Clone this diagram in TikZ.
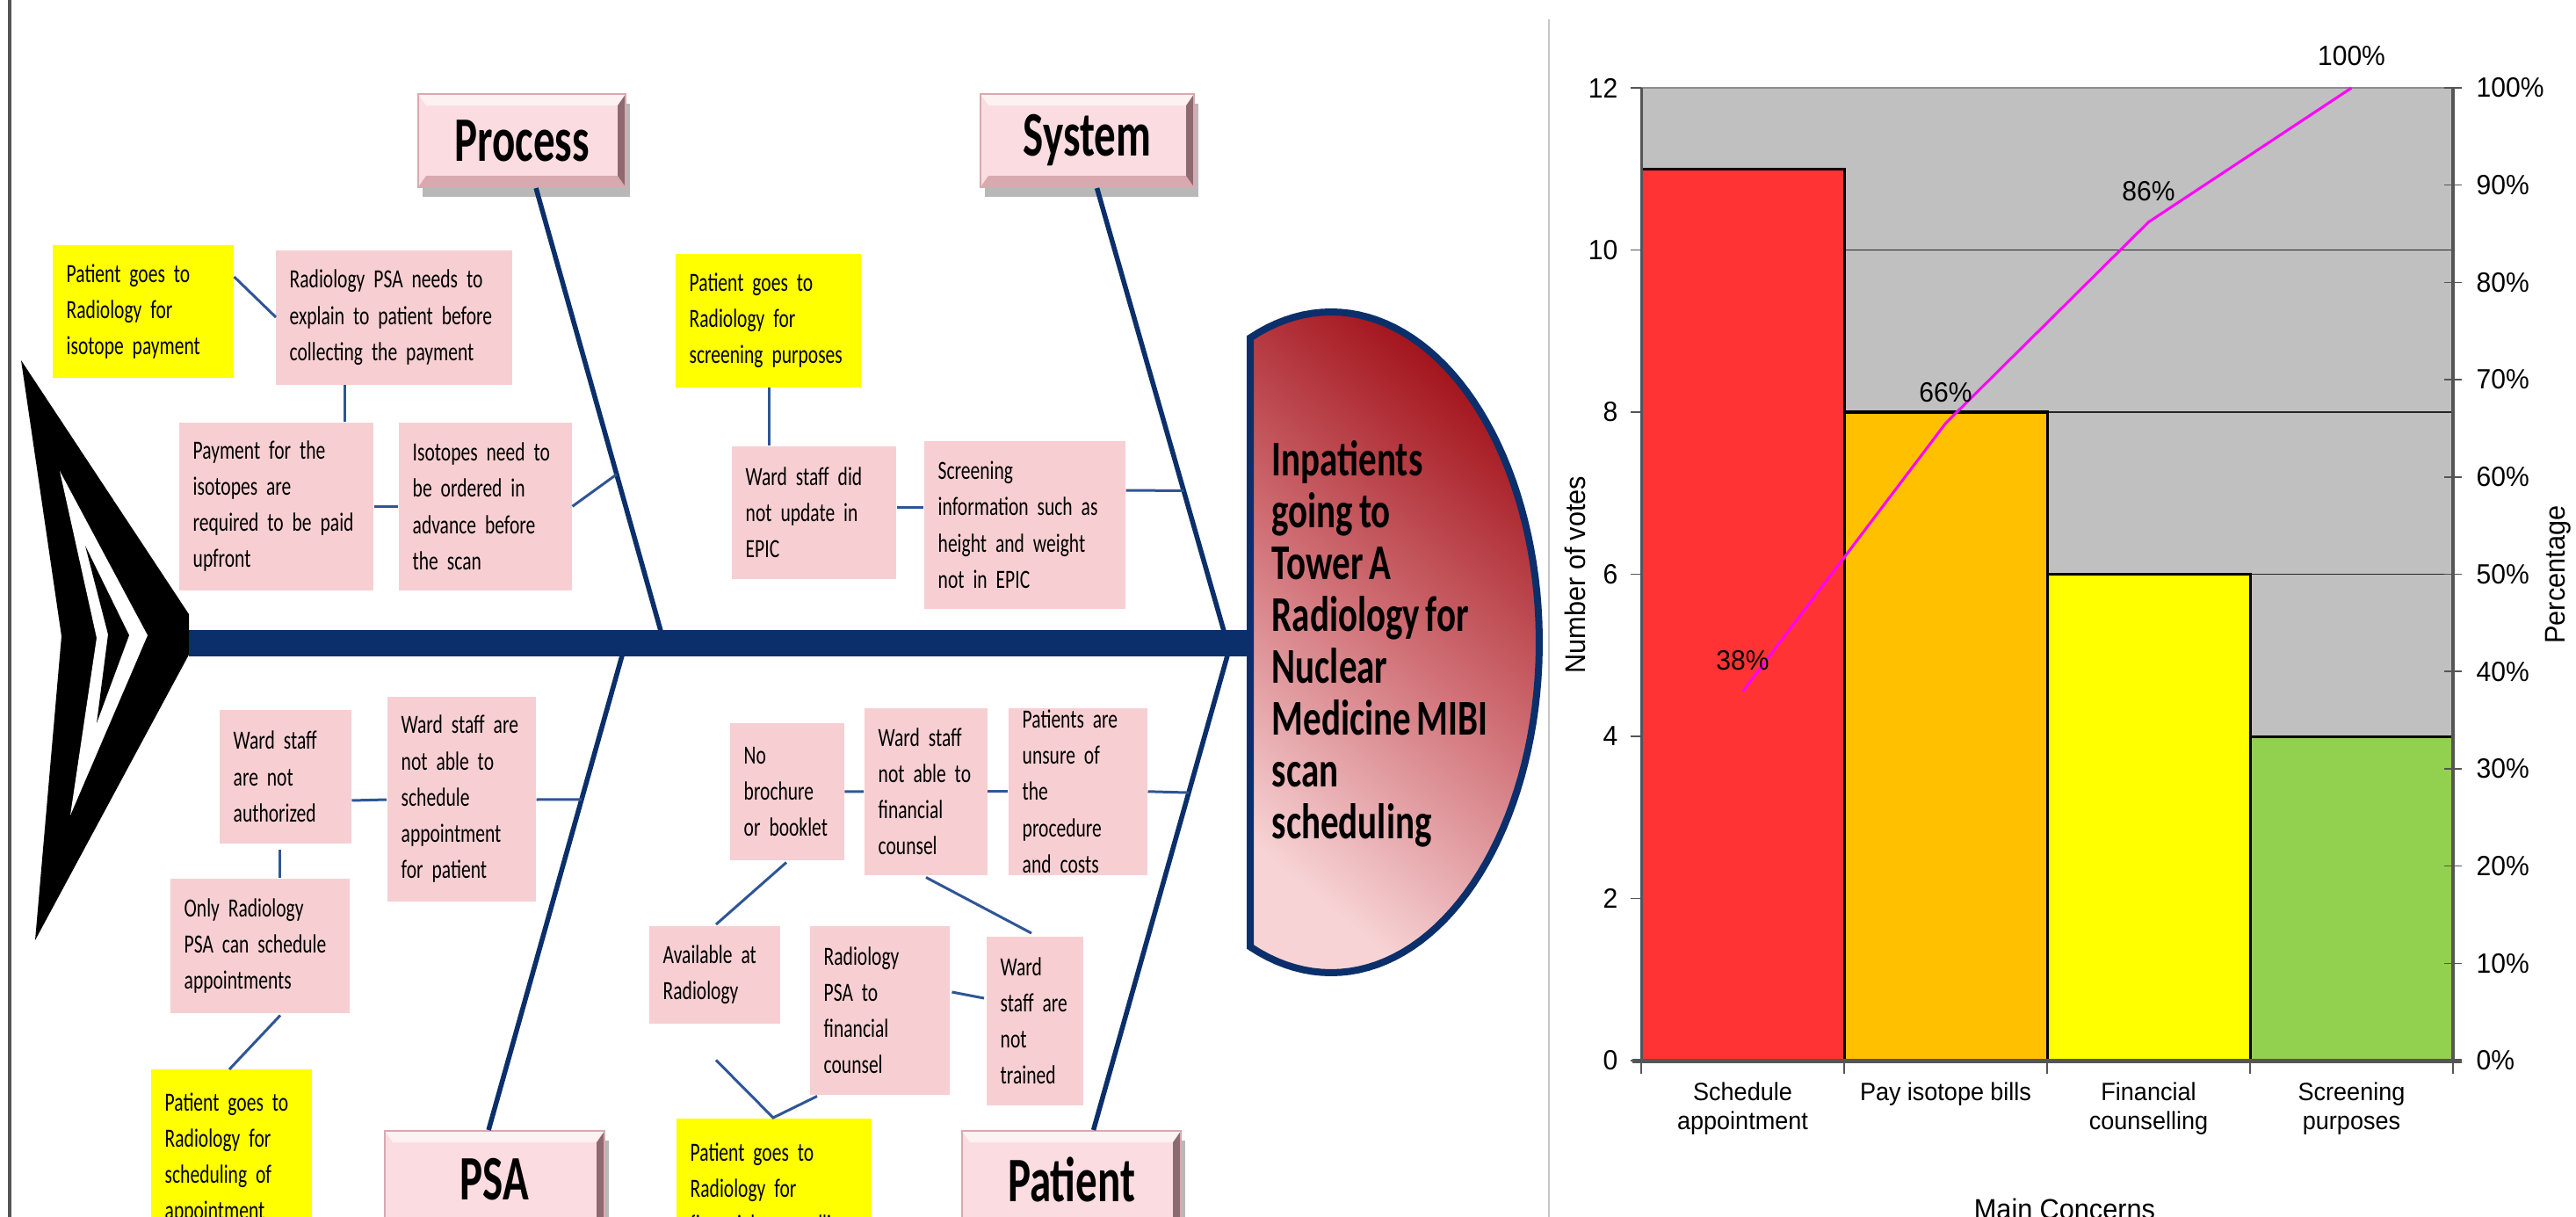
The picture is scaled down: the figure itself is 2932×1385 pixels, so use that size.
\documentclass[tikz,border=0pt]{standalone}
\usepackage{fontspec}
\usetikzlibrary{calc,shadows}
\newfontfamily\fbfont[FakeStretch=0.72,WordSpace=0.72]{Carlito}
\newfontfamily\hdfont[FakeStretch=0.68,WordSpace=0.68]{Carlito}
\newfontfamily\chfont[FakeStretch=0.95,WordSpace=0.95]{Liberation Sans}
\definecolor{pinkbox}{HTML}{F7CFD2}
\definecolor{ybox}{HTML}{FFFF00}
\definecolor{navy}{HTML}{0B2F6A}
\definecolor{conn}{HTML}{2F5597}
\definecolor{catfill}{HTML}{FBDCE0}
\definecolor{catlow}{HTML}{D9A9B0}
\definecolor{catright}{HTML}{8E6A70}
\definecolor{hdark}{HTML}{A3141C}
\definecolor{hmid}{HTML}{D07177}
\definecolor{hlight}{HTML}{F7D3D5}
\definecolor{plotgray}{HTML}{C0C0C0}
\definecolor{barred}{HTML}{FF3333}
\definecolor{barorange}{HTML}{FFC000}
\definecolor{baryellow}{HTML}{FFFF00}
\definecolor{bargreen}{HTML}{92D050}
\definecolor{axisgray}{HTML}{555555}
\definecolor{cumline}{RGB}{255,0,255}
\begin{document}
\begin{tikzpicture}[x=0.01cm,y=-0.01cm,
  txtbox/.style={anchor=north west, inner xsep=1.6mm, inner ysep=0pt, align=left,
    font={\fbfont\fontsize{8.5}{11.7}\selectfont}, text=black},
  pk/.style={txtbox, fill=pinkbox},
  yl/.style={txtbox, fill=ybox},
  con/.style={draw=conn, line width=0.3mm},
  bone/.style={draw=navy, line width=0.55mm},
  catbox/.style={anchor=north west, inner sep=0pt, fill=catfill, draw=catlow, line width=0.2mm,
    font={\hdfont\bfseries\fontsize{20.5}{22}\selectfont},
    drop shadow={shadow xshift=0.5mm, shadow yshift=-1.1mm, fill=black, opacity=0.28},
    path picture={
      \fill[white,opacity=0.6] (path picture bounding box.north west) -- (path picture bounding box.north east)
        -- ([xshift=-0.9mm,yshift=-1.3mm]path picture bounding box.north east)
        -- ([xshift=0.9mm,yshift=-1.3mm]path picture bounding box.north west) -- cycle;
      \fill[catlow] (path picture bounding box.south west) -- (path picture bounding box.south east)
        -- ([xshift=-0.9mm,yshift=1.3mm]path picture bounding box.south east)
        -- ([xshift=0.9mm,yshift=1.3mm]path picture bounding box.south west) -- cycle;
      \fill[catright] (path picture bounding box.north east) -- (path picture bounding box.south east)
        -- ([xshift=-0.9mm,yshift=1.3mm]path picture bounding box.south east)
        -- ([xshift=-0.9mm,yshift=-1.3mm]path picture bounding box.north east) -- cycle;
    }},
  ticklab/.style={inner sep=0pt, font={\chfont\fontsize{9}{10}\selectfont}},
  catlab/.style={inner sep=0pt, anchor=north, align=center, font={\chfont\fontsize{8.1}{9.4}\selectfont}},
  pctlab/.style={inner sep=0pt, font={\chfont\fontsize{9}{10}\selectfont}},
  axtitle/.style={inner sep=0pt, font={\chfont\fontsize{9.2}{10}\selectfont}}
]
\useasboundingbox (0,0) rectangle (2932,1385);
\fill[white] (0,0) rectangle (2932,1385);

% frame lines
\draw[axisgray, line width=0.3mm] (11,0) -- (11,1385);
\draw[black!22, line width=0.25mm] (1763,22) -- (1763,1385);

% ---------------- category boxes ----------------
\node[catbox, minimum width=23.6mm, minimum height=10.6mm] (proc) at (475,106) {Process};
\node[catbox, minimum width=24.3mm, minimum height=10.6mm] (sys) at (1115,106) {System};
\node[catbox, minimum width=25.0mm, minimum height=11.1mm] (psa) at (437,1286) {PSA};
\node[catbox, minimum width=24.9mm, minimum height=11.1mm] (pat) at (1094,1286) {Patient};

% ---------------- spine and bones ----------------
\coordinate (tailend) at (215,732);
\coordinate (headend) at (1423,732);
\coordinate (sP) at (756,732);
\coordinate (sS) at (1397,732);
\coordinate (sQ) at (712,732);
\coordinate (sR) at (1401,732);
\coordinate (pTop) at ($(proc.south)+(16,0)$);
\coordinate (sTop) at ($(sys.south)+(11,0)$);
\coordinate (qBot) at ($(psa.north)+(-7,0)$);
\coordinate (rBot) at ($(pat.north)+(25,0)$);
\draw[bone] (pTop) -- (sP);
\draw[bone] (sTop) -- (sS);
\draw[bone] (qBot) -- (sQ);
\draw[bone] (rBot) -- (sR);
\coordinate (k1) at ($(pTop)!0.629!(sP)$);
\coordinate (k2) at ($(sTop)!0.665!(sS)$);
\coordinate (k3) at ($(sQ)!0.321!(qBot)$);
\coordinate (k4) at ($(sR)!0.307!(rBot)$);

\draw[navy, line width=2.9mm] (tailend) -- (headend);

% tail
\fill[black] (24,410) -- (215,699) -- (215,745) -- (40,1070) -- (70,724) -- cycle;
\fill[white] (68,536) -- (168,723) -- (80,928) -- (110,726) -- cycle;
\fill[black] (97,621) -- (147,723) -- (110,823) -- (123,722) -- cycle;

% head
\draw[navy, line width=0.8mm, top color=hdark, bottom color=hlight, middle color=hmid, shading angle=-40]
  plot[domain=-112.8:112.8, samples=90, variable=\t] ({1515+237*cos(\t)},{731+376*sin(\t)}) -- cycle;
\node[anchor=west, align=left, inner sep=0pt, font={\fbfont\bfseries\fontsize{16.2}{16.8}\selectfont}] (head) at (1447,733)
  {Inpatients\\going to\\Tower A\\Radiology for\\Nuclear\\Medicine MIBI\\scan\\scheduling};

% ---------------- cause boxes ----------------
\node[yl, text width=17.4mm, minimum height=15.1mm] (y1) at (59,278) {Patient goes to\\Radiology for\\isotope payment};
\node[pk, text width=23.7mm, minimum height=15.3mm] (rpsa) at (313,284) {Radiology PSA needs to\\explain to patient before\\collecting the payment};
\node[pk, text width=18.9mm, minimum height=19.1mm] (pay) at (203,480) {Payment for the\\isotopes are\\required to be paid\\upfront};
\node[pk, text width=16.5mm, minimum height=19.1mm] (iso) at (453,480) {Isotopes need to\\be ordered in\\advance before\\the scan};
\node[yl, text width=17.9mm, minimum height=15.2mm] (y2) at (768,288) {Patient goes to\\Radiology for\\screening purposes};
\node[pk, text width=15.5mm, minimum height=15.1mm] (wdid) at (832,507) {Ward staff did\\not update in\\EPIC};
\node[pk, text width=19.7mm, minimum height=19.1mm] (scr) at (1051,501) {Screening\\information such as\\height and weight\\not in EPIC};
\node[pk, text width=11.8mm, minimum height=15.2mm] (auth) at (249,807) {Ward staff\\are not\\authorized};
\node[pk, text width=13.7mm, minimum height=23.3mm] (able) at (440,792) {Ward staff are\\not able to\\schedule\\appointment\\for patient};
\node[pk, text width=17.2mm, minimum height=15.3mm] (only) at (193,999) {Only Radiology\\PSA can schedule\\appointments};
\node[yl, text width=15.1mm, minimum height=20.3mm] (y3) at (171,1216) {Patient goes to\\Radiology for\\scheduling of\\appointment};
\node[pk, text width=9.8mm, minimum height=15.6mm] (nobro) at (830,822) {No\\brochure\\or booklet};
\node[pk, text width=10.8mm, minimum height=19mm] (wsfin) at (983,805) {Ward staff\\not able to\\financial\\counsel};
\node[pk, text width=12.6mm, minimum height=19mm] (unsure) at (1147,805) {Patients are\\unsure of the\\procedure\\and costs};
\node[pk, text width=11.7mm, minimum height=11.1mm] (avail) at (738,1053) {Available at\\Radiology};
\node[pk, text width=12.7mm, minimum height=19.2mm] (radfin) at (921,1053) {Radiology\\PSA to\\financial\\counsel};
\node[pk, text width=7.8mm, minimum height=19.2mm] (wsnt) at (1122,1065) {Ward\\staff are\\not\\trained};
\node[yl, text width=19.0mm, minimum height=16.4mm] (y4) at (769,1272) {Patient goes to\\Radiology for\\financial counselling};

% ---------------- connectors ----------------
\draw[con] ($(y1.north east)+(0,37)$) -- ($(rpsa.north west)+(1,77)$);
\draw[con] ($(rpsa.south west)+(79,0)$) -- ($(pay.north west)+(189,0)$);
\draw[con] (pay.east) -- (iso.west);
\draw[con] (iso.east) -- (k1);
\draw[con] ($(y2.south west)+(107,0)$) -- ($(wdid.north west)+(43,0)$);
\draw[con] ($(wdid.north east)+(0,70)$) -- ($(scr.north west)+(0,76)$);
\draw[con] ($(scr.north east)+(0,57)$) -- (k2);
\draw[con] ($(auth.north east)+(0,104)$) -- ($(able.north west)+(0,118)$);
\draw[con] ($(able.north east)+(0,118)$) -- (k3);
\draw[con] ($(auth.south west)+(69,7)$) -- ($(only.north west)+(125,0)$);
\draw[con] ($(only.south west)+(126,2)$) -- ($(y3.north west)+(90,1)$);
\draw[con] (nobro.east) -- (wsfin.west);
\draw[con] (wsfin.east) -- (unsure.west);
\draw[con] (unsure.east) -- (k4);
\draw[con] ($(nobro.south west)+(65,2)$) -- ($(avail.north west)+(77,-1)$);
\draw[con] ($(wsfin.south west)+(71,2)$) -- ($(wsnt.north west)+(52,-3)$);
\draw[con] ($(radfin.north east)+(2,76)$) -- ($(wsnt.north west)+(-2,71)$);
\draw[con] ($(avail.south west)+(77,41)$) -- ($(y4.north west)+(111,0)$) -- ($(radfin.south west)+(9,1)$);

% ---------------- Pareto chart ----------------
\fill[plotgray] (1868,100) rectangle (2792,1207);
\foreach \v in {2,4,...,10} \draw[black!85, line width=0.15mm] (1868,{1207-92.25*\v}) -- (2792,{1207-92.25*\v});
\draw[black!45, line width=0.2mm] (1868,100) -- (2792,100);
\draw[black, line width=0.3mm, fill=barred] (1868,1207) rectangle (2099,192.25);
\draw[black, line width=0.3mm, fill=barorange] (2099,1207) rectangle (2330,469);
\draw[black, line width=0.3mm, fill=baryellow] (2330,1207) rectangle (2561,653.5);
\draw[black, line width=0.3mm, fill=bargreen] (2561,1207) rectangle (2792,838);
\draw[axisgray, line width=0.3mm] (1868,100) -- (1868,1207);
\draw[axisgray, line width=0.45mm] (2792,100) -- (2792,1207);
\draw[axisgray, line width=0.5mm] (1858,1207) -- (2802,1207);
\foreach \v in {0,2,...,12} {
  \draw[axisgray, line width=0.15mm] (1856,{1207-92.25*\v}) -- (1868,{1207-92.25*\v});
  \node[ticklab, anchor=east] (yl\v) at (1842,{1207-92.25*\v}) {\v};
}
\foreach \p in {0,10,...,100} {
  \draw[axisgray, line width=0.15mm] (2782,{1207-11.07*\p}) -- (2802,{1207-11.07*\p});
  \node[ticklab, anchor=west] (pl\p) at (2818,{1207-11.07*\p}) {\p\%};
}
\foreach \x in {1868,2099,2330,2561,2792} \draw[axisgray, line width=0.15mm] (\x,1207) -- (\x,1222);

\coordinate (c1) at (1983.5,787.1);
\coordinate (c2) at (2214.5,481.7);
\coordinate (c3) at (2445.5,252.7);
\coordinate (c4) at (2676.5,100);
\draw[cumline, line width=0.3mm] (c1) -- (c2) -- (c3) -- (c4);
\node[pctlab] (pc1) at ($(c1)+(0,-35)$) {38\%};
\node[pctlab] (pc2) at ($(c2)+(0,-35)$) {66\%};
\node[pctlab] (pc3) at ($(c3)+(0,-35)$) {86\%};
\node[pctlab] (pc4) at ($(c4)+(0,-36)$) {100\%};

\node[catlab] (cat1) at (1983.5,1231) {Schedule\\appointment};
\node[catlab] (cat2) at (2214.5,1231) {Pay isotope bills};
\node[catlab] (cat3) at (2445.5,1231) {Financial\\counselling};
\node[catlab] (cat4) at (2676.5,1231) {Screening\\purposes};
\node[axtitle, anchor=north] (xtitle) at (2350,1363) {Main Concerns};
\node[axtitle, rotate=90] (ytitle) at (1793,654) {Number of votes};
\node[axtitle, rotate=90] (ptitle) at (2912,654) {Percentage};
\end{tikzpicture}
\end{document}
